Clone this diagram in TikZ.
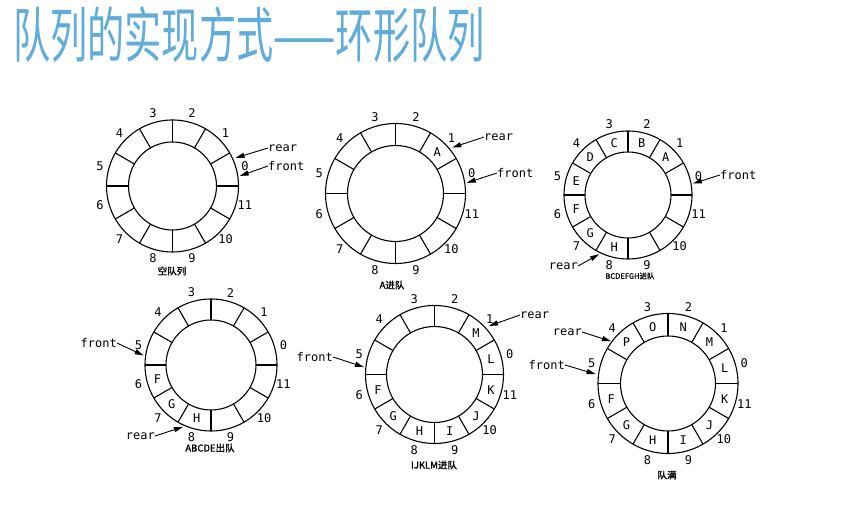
\documentclass[tikz,border=0pt]{standalone}
\usepackage{fontspec}
\setmainfont{DejaVu Sans Mono}
\newfontfamily\cjk{Noto Sans CJK SC}
\newfontfamily\cjkb[FakeBold=1.2]{Noto Sans CJK SC}
\usetikzlibrary{arrows.meta,calc}
\definecolor{titleblue}{RGB}{96,172,218}
\tikzset{
  ringline/.style={line width=1.1pt, black},
  idx/.style={font=\fontsize{12}{12}\selectfont, inner sep=0pt},
  slotlbl/.style={font=\fontsize{12}{12}\selectfont, inner sep=0pt},
  ptrlbl/.style={font=\fontsize{12}{12}\selectfont, inner sep=0pt},
  ptr/.style={line width=0.9pt, -{Triangle[length=9pt,width=5pt]}},
  captxt/.style={font=\cjkb\fontsize{9.5}{10}\selectfont, inner sep=0pt},
}
\newcommand\ringdraw[3]{%
  \draw[ringline] (#1) circle[radius=#2] (#1) circle[radius=#3];
  \foreach \a in {0,30,...,330} \draw[ringline] ($(#1)+(\a:#3)$) -- ($(#1)+(\a:#2)$);
  \foreach \k in {0,...,11} \node[idx] (#1n\k) at ($(#1)+({15+30*\k}:{#2+9})$) {\k};
}
\newcommand\slotfill[4]{%
  \foreach \k/\L in {#4} \node[slotlbl] (#1s\k) at ($(#1)+({15+30*\k}:{(#2+#3)/2})$) {\L};
}
\begin{document}
\begin{tikzpicture}[x=1pt,y=1pt]
\useasboundingbox[fill=white] (0,0) rectangle (865,510);
\node[anchor=west, inner sep=0pt, text=titleblue, font=\cjk\fontsize{60}{60}\selectfont, xscale=0.62] (title) at (13,475) {队列的实现方式——环形队列};

% ring 1: empty
\coordinate (A) at (172.5,324);
\ringdraw{A}{66}{44}
\coordinate (Arear) at ($(A)+(24:69)$);
\coordinate (Afront) at ($(A)+(8.5:68)$);
\node[ptrlbl, anchor=west] (Arl) at (268,362) {rear};
\node[ptrlbl, anchor=west] (Afl) at (268,344) {front};
\draw[ptr] (Arl.west) -- (Arear);
\draw[ptr] (Afl.west) -- (Afront);
\node[captxt] (Acap) at (172,239) {空队列};

% ring 2: A in
\coordinate (B) at (395.5,316.5);
\ringdraw{B}{70}{48}
\slotfill{B}{70}{48}{1/A}
\coordinate (Brear) at ($(B)+(39:73)$);
\coordinate (Bfront) at ($(B)+(8.5:72)$);
\node[ptrlbl, anchor=west] (Brl) at (484,373) {rear};
\node[ptrlbl, anchor=west] (Bfl) at (497,337) {front};
\draw[ptr] (Brl.west) -- (Brear);
\draw[ptr] (Bfl.west) -- (Bfront);
\node[captxt] (Bcap) at (392,225) {A进队};

% ring 3: BCDEFGH in
\coordinate (C) at (628,315);
\ringdraw{C}{64}{43}
\slotfill{C}{64}{43}{1/A,2/B,3/C,4/D,5/E,6/F,7/G,8/H}
\coordinate (Crear) at ($(C)+(244:66)$);
\coordinate (Cfront) at ($(C)+(10:66)$);
\node[ptrlbl, anchor=west] (Cfl) at (720,335) {front};
\node[ptrlbl, anchor=east] (Crl) at (578,244) {rear};
\draw[ptr] (Cfl.west) -- (Cfront);
\draw[ptr] (Crl.east) -- (Crear);
\node[captxt, font=\cjkb\fontsize{7.5}{8}\selectfont] (Ccap) at (630,234) {BCDEFGH进队};

% ring 4: ABCDE out
\coordinate (D) at (211,145);
\ringdraw{D}{66}{45}
\slotfill{D}{66}{45}{6/F,7/G,8/H}
\coordinate (Dfront) at ($(D)+(172:68)$);
\coordinate (Drear) at ($(D)+(245.6:68)$);
\node[ptrlbl, anchor=east] (Dfl) at (117,167) {front};
\node[ptrlbl, anchor=east] (Drl) at (155,74) {rear};
\draw[ptr] (Dfl.east) -- (Dfront);
\draw[ptr] (Drl.east) -- (Drear);
\node[captxt] (Dcap) at (210,62) {ABCDE出队};

% ring 5: IJKLM in
\coordinate (E) at (434.5,135.5);
\ringdraw{E}{69}{48}
\slotfill{E}{69}{48}{6/F,7/G,8/H,9/I,10/J,11/K,0/L,1/M}
\coordinate (Erear) at ($(E)+(41.7:73)$);
\coordinate (Efront) at ($(E)+(174:71)$);
\node[ptrlbl, anchor=west] (Erl) at (520,195) {rear};
\node[ptrlbl, anchor=east] (Efl) at (333,153) {front};
\draw[ptr] (Erl.west) -- (Erear);
\draw[ptr] (Efl.east) -- (Efront);
\node[captxt] (Ecap) at (434,45) {IJKLM进队};

% ring 6: full
\coordinate (F) at (668,126.5);
\ringdraw{F}{70}{47.5}
\slotfill{F}{70}{47.5}{0/L,1/M,2/N,3/O,4/P,6/F,7/G,8/H,9/I,10/J,11/K}
\coordinate (Frear) at ($(F)+(143.5:71)$);
\coordinate (Ffront) at ($(F)+(172.6:73)$);
\node[ptrlbl, anchor=east] (Frl) at (582,178) {rear};
\node[ptrlbl, anchor=east] (Ffl) at (565,145) {front};
\draw[ptr] (Frl.east) -- (Frear);
\draw[ptr] (Ffl.east) -- (Ffront);
\node[captxt] (Fcap) at (667,35) {队满};
\end{tikzpicture}
\end{document}
